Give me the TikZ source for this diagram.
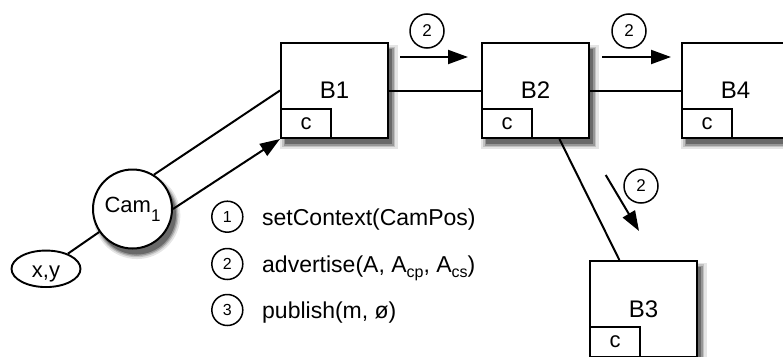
\documentclass[tikz,border=0pt]{standalone}
\usepackage{fontspec}
\setmainfont{Liberation Sans}
\usetikzlibrary{arrows.meta,shapes.geometric,shadows}
\newcommand\fsz[1]{\fontsize{#1}{#1}\selectfont}
\newcommand\lowsub[2]{\raisebox{-#2}{\fsz{16}#1}}
\tikzset{
  soft/.style={
    general shadow={fill=black, opacity=0.10, shadow xshift=4pt, shadow yshift=-6pt, shadow scale=1.10},
    general shadow={fill=black, opacity=0.15, shadow xshift=4pt, shadow yshift=-6pt, shadow scale=1.06},
    general shadow={fill=black, opacity=0.22, shadow xshift=4pt, shadow yshift=-6pt, shadow scale=1.03},
    general shadow={fill=black, opacity=0.30, shadow xshift=4pt, shadow yshift=-6pt}},
  bbox/.style={draw, fill=white, line width=2pt, minimum width=107pt, minimum height=95pt,
    inner sep=0pt, font=\fsz{24}, soft},
  cbox/.style={draw, fill=white, line width=2pt, minimum width=50pt, minimum height=29pt,
    inner sep=0pt, anchor=south west, font=\fsz{22}},
  num/.style={draw, circle, line width=1.5pt, minimum size=31pt, inner sep=0pt, font=\fsz{16}},
  anum/.style={num, minimum size=34pt, font=\fsz{17}},
  legtext/.style={anchor=base west, inner sep=0pt, font=\fsz{23}},
  conn/.style={line width=2pt},
  arr/.style={line width=2pt, -{Triangle[length=20pt,width=14pt]}},
}
\begin{document}
\begin{tikzpicture}[x=1pt,y=-1pt]
\path[use as bounding box] (0,0) rectangle (783,356);
\fill[white] (0,0) rectangle (783,356);
\clip (0,0) rectangle (783,356);

% boxes
\node[bbox] (B1) at (334.5,90.5) {B1};
\node[cbox] (c1) at (B1.south west) {c};
\node[bbox] (B2) at (535.5,90.5) {B2};
\node[cbox] (c2) at (B2.south west) {c};
\node[bbox] (B4) at (735.5,90.5) {B4};
\node[cbox] (c4) at (B4.south west) {c};
\node[bbox, minimum height=96pt] (B3) at (643.5,309) {B3};
\node[cbox, minimum height=30pt] (c3) at (B3.south west) {c};

% camera and position
\node[circle, draw, fill=white, line width=2pt, minimum size=79pt, inner sep=0pt,
      font=\fsz{22}, soft] (cam) at (132.5,209) {Cam\raisebox{-9pt}{\fsz{17}1}};
\node[ellipse, draw, fill=white, line width=1.9pt, minimum width=69pt, minimum height=36.5pt,
      inner sep=0pt, font=\fsz{22}, text height=18pt, text depth=0pt] (xy) at (46,268.8) {x,y};

% connectors
\draw[conn] (xy) -- (cam);
\draw[conn] (cam.58) -- (B1.west);
\draw[arr] (cam.east) -- (B1.south west);
\draw[conn] (B1.east) -- (B2.west);
\draw[conn] (B2.east) -- (B4.west);
\draw[conn] (B2) -- (B3);

% message arrows
\coordinate (a1s) at (400,57);
\coordinate (a1e) at (468,57);
\coordinate (a2s) at (602,57);
\coordinate (a2e) at (671,57);
\coordinate (a3s) at (605.7,175);
\coordinate (a3e) at (639,231);
\draw[arr] (a1s) -- (a1e);
\draw[arr] (a2s) -- (a2e);
\draw[arr] (a3s) -- (a3e);
\node[anum] (n1) at (427,31) {2};
\node[anum] (n2) at (629,31) {2};
\node[anum] (n3) at (641,186) {2};

% legend
\node[num] (l1) at (227.3,216.7) {1};
\node[num] (l2) at (227.3,264) {2};
\node[num] (l3) at (227.3,310) {3};
\node[legtext] (t1) at (262,225) {setContext(CamPos)};
\node[legtext] (t2) at (262,272.3) {advertise(A, A\lowsub{cp}{5pt}, A\lowsub{cs}{5pt})};
\node[legtext] (t3) at (262,318.3) {publish(m, ø)};
\end{tikzpicture}
\end{document}
